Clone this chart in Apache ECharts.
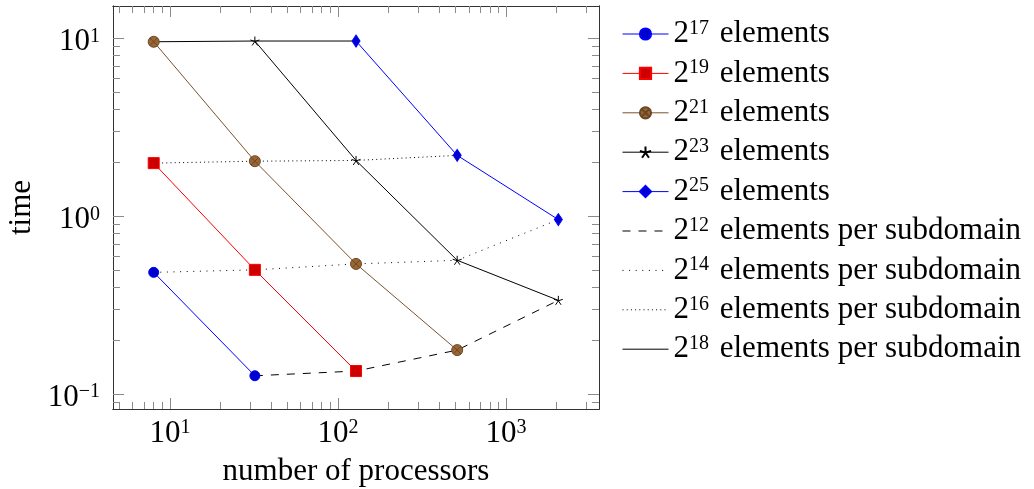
<!DOCTYPE html>
<html>
<head>
<meta charset="UTF-8">
<title>time vs number of processors</title>
<script src="https://cdn.jsdelivr.net/npm/echarts@6/dist/echarts.min.js"></script>
<style>
  html, body { margin: 0; padding: 0; background: #fff; }
  #chart { width: 1034px; height: 489px; }
</style>
</head>
<body>
<div id="chart"></div>
<script>
// processors (x) and run time (y) for each problem size
const procs = [8, 32, 128, 512, 2048];
const procExp = [3, 5, 7, 9, 11];          // log2 of procs
const sizeExp = [17, 19, 21, 23, 25];      // log2 of total elements
const time17 = [0.484, 0.127, null, null, null];
const time19 = [1.99, 0.50, 0.135, null, null];
const time21 = [9.57, 2.04, 0.54, 0.177, null];
const time23 = [null, 9.66, 2.06, 0.566, 0.337];
const time25 = [null, null, 9.66, 2.2, 0.958];
const subExp = [12, 14, 16, 18];           // log2 of elements per subdomain

// tick positions
const xMajor = [10, 100, 1000];
const xMinor = [5, 6, 7, 8, 9, 20, 30, 40, 50, 60, 70, 80, 90,
  200, 300, 400, 500, 600, 700, 800, 900, 2000, 3000];
const yMajor = [0.1, 1, 10];
const yMinor = [0.09, 0.2, 0.3, 0.4, 0.5, 0.6, 0.7, 0.8, 0.9, 2, 3, 4, 5, 6, 7, 8, 9];

const times = [time17, time19, time21, time23, time25];

const FONT = 'Liberation Serif';
const rich = {
  b: { fontFamily: FONT, fontSize: 31, lineHeight: 31, verticalAlign: 'bottom', color: '#000' },
  t: { fontFamily: FONT, fontSize: 31, lineHeight: 31, verticalAlign: 'bottom', color: '#000', padding: [0, 0, 0, 3] },
  s: { fontFamily: FONT, fontSize: 20, lineHeight: 20, verticalAlign: 'top', padding: [0, 0, 12, 0], color: '#000' }
};

function powLabel(v) {
  const e = Math.round(Math.log10(v));
  return '{b|10}{s|' + (e < 0 ? '\u2212' + (-e) : e) + '}';
}

// marker shapes
const otimes = 'path://M10,0A10,10,0,1,1,10,20A10,10,0,1,1,10,0ZM2.93,2.93L17.07,17.07M2.93,17.07L17.07,2.93';
const star = 'path://M10,10L10,0M10,10L19.51,6.91M10,10L15.88,18.09M10,10L4.12,18.09M10,10L0.49,6.91';

const sizeStyles = [
  { line: '#0000ff', fill: '#0000cc', border: '#0000ff', symbol: 'circle', size: 10 },
  { line: '#ff0000', fill: '#cc0000', border: '#ff0000', symbol: 'rect', size: 11 },
  { line: '#7a5230', fill: '#996633', border: '#6b4726', symbol: otimes, size: 11 },
  { line: '#000000', fill: 'transparent', border: '#000000', symbol: star, size: 9 },
  { line: '#0000ff', fill: '#0000cc', border: '#0000ff', symbol: 'diamond', size: [8, 12] }
];
const subDash = [[8, 8], [1, 5.6], [1, 3.2], 'solid'];

const series = [];
sizeExp.forEach(function (e, i) {
  const st = sizeStyles[i];
  const data = [];
  procs.forEach(function (p, j) {
    if (times[i][j] != null) data.push([p, times[i][j]]);
  });
  series.push({
    name: '2^' + e + ' elements',
    type: 'line',
    data: data,
    symbol: st.symbol,
    symbolSize: st.size,
    lineStyle: { color: st.line, width: 1 },
    itemStyle: { color: st.fill, borderColor: st.border, borderWidth: 1 },
    z: 3
  });
});

subExp.forEach(function (s, k) {
  const data = [];
  procs.forEach(function (p, j) {
    sizeExp.forEach(function (e, i) {
      if (e - procExp[j] === s && times[i][j] != null) data.push([p, times[i][j]]);
    });
  });
  series.push({
    name: '2^' + s + ' elements per subdomain',
    type: 'line',
    data: data,
    symbol: 'none',
    lineStyle: { color: '#000', width: 1, type: subDash[k], cap: 'butt' },
    itemStyle: { color: 'transparent', borderColor: 'transparent', borderWidth: 0 },
    z: 2
  });
});

const X_MIN = 4.58, X_MAX = 3575;
const Y_MIN = 0.0826, Y_MAX = 15.2;

function frameAxis(dim, pos, ticks, len, extra) {
  const a = {
    type: 'log',
    position: pos,
    min: dim === 'x' ? X_MIN : Y_MIN,
    max: dim === 'x' ? X_MAX : Y_MAX,
    splitLine: { show: false },
    axisLine: { show: true, onZero: false, lineStyle: { color: '#333', width: 1 } },
    axisTick: { show: true, inside: true, length: len, customValues: ticks, lineStyle: { color: '#8a8a8a', width: 1 } },
    axisLabel: { show: false },
    nameMoveOverlap: false
  };
  return Object.assign(a, extra || {});
}

const chart = echarts.init(document.getElementById('chart'), null, { renderer: 'canvas' });
chart.setOption({
  animation: false,
  backgroundColor: '#fff',
  grid: { left: 113, top: 6, width: 486, height: 403, containLabel: false, outerBoundsMode: 'none' },
  xAxis: [
    frameAxis('x', 'bottom', xMajor, 11, {
      axisLabel: { show: true, customValues: xMajor, margin: 9, formatter: powLabel, rich: rich },
      name: 'number of processors',
      nameLocation: 'middle',
      nameGap: 47,
      nameTextStyle: { fontFamily: FONT, fontSize: 31, color: '#000' }
    }),
    frameAxis('x', 'bottom', xMinor, 7),
    frameAxis('x', 'top', xMajor, 11),
    frameAxis('x', 'top', xMinor, 7)
  ],
  yAxis: [
    frameAxis('y', 'left', yMajor, 11, {
      axisLabel: { show: true, customValues: yMajor, margin: 13, formatter: powLabel, rich: rich, padding: [7, 0, 0, 0] },
      name: 'time',
      nameLocation: 'middle',
      nameGap: 76,
      nameRotate: 90,
      nameTextStyle: { fontFamily: FONT, fontSize: 31, color: '#000' }
    }),
    frameAxis('y', 'left', yMinor, 7),
    frameAxis('y', 'right', yMajor, 11),
    frameAxis('y', 'right', yMinor, 7)
  ],
  legend: {
    orient: 'vertical',
    left: 622,
    top: 18.5,
    padding: 0,
    itemWidth: 46,
    itemHeight: 14,
    itemGap: 7.4,
    selectedMode: false,
    lineStyle: { width: 1 },
    formatter: function (name) {
      const m = name.match(/^2\^(\d+)(.*)$/);
      return '{b|2}{s|' + m[1] + '}{t|' + m[2] + '}';
    },
    textStyle: { rich: rich },
    data: series.map(function (s) { return s.name; })
  },
  series: series
});
</script>
</body>
</html>
